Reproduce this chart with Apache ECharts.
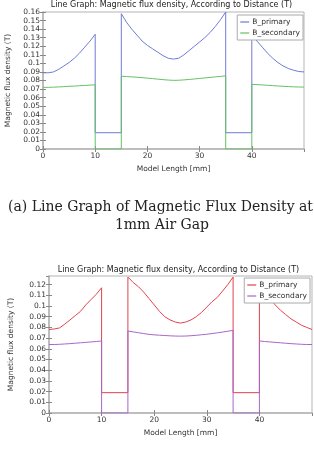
<!DOCTYPE html>
<html lang="en">
<head>
<meta charset="UTF-8">
<title>Magnetic flux density</title>
<script src="https://cdn.jsdelivr.net/npm/echarts@6/dist/echarts.min.js"></script>
<style>
    body { margin: 0; background: #fff; }
    #top { position: absolute; left: 0; top: 0; width: 314px; height: 240px; }
    #bottom { position: absolute; left: 0; top: 240px; width: 314px; height: 223px; }
</style>
</head>
<body>
<div id="top"></div>
<div id="bottom"></div>
<script>
    // sample positions along the model [mm]; repeated x = vertical jump at the gap
    const dist = [0, 1, 2, 3, 4, 5, 6, 7, 8, 9, 10,
        10, 15,
        15, 16, 17, 18, 19, 20, 21, 22, 23, 24, 25, 26, 27, 28, 29, 30, 31, 32, 33, 34, 35,
        35, 40,
        40, 41, 42, 43, 44, 45, 46, 47, 48, 49, 50];

    // (a) 1mm air gap
    const primaryA = [0.089, 0.089, 0.090, 0.093, 0.097, 0.101, 0.106, 0.112, 0.119, 0.126, 0.134,
        0.019, 0.019,
        0.158, 0.148, 0.140, 0.133, 0.126, 0.121, 0.117, 0.113, 0.109, 0.106, 0.105, 0.106, 0.110, 0.115, 0.120, 0.125, 0.130, 0.136, 0.143, 0.151, 0.160,
        0.019, 0.019,
        0.134, 0.126, 0.119, 0.112, 0.106, 0.101, 0.097, 0.094, 0.092, 0.0905, 0.090];
    const secondaryA = [0.072, 0.072, 0.0722, 0.0725, 0.0728, 0.0732, 0.0735, 0.0739, 0.0742, 0.0746, 0.075,
        0, 0,
        0.085, 0.0846, 0.0842, 0.0838, 0.0833, 0.0828, 0.0822, 0.0816, 0.081, 0.0805, 0.0802, 0.0803, 0.0807, 0.0812, 0.0818, 0.0824, 0.083, 0.0836, 0.0842, 0.0848, 0.0855,
        0, 0,
        0.0755, 0.0752, 0.0748, 0.0744, 0.074, 0.0736, 0.0732, 0.0729, 0.0726, 0.0724, 0.0723];

    // second gap
    const primaryB = [0.078, 0.0785, 0.0795, 0.083, 0.087, 0.091, 0.095, 0.101, 0.106, 0.111, 0.117,
        0.019, 0.019,
        0.127, 0.122, 0.118, 0.113, 0.107, 0.101, 0.095, 0.090, 0.087, 0.085, 0.084, 0.085, 0.087, 0.090, 0.094, 0.099, 0.104, 0.108, 0.114, 0.120, 0.127,
        0.019, 0.019,
        0.117, 0.112, 0.107, 0.101, 0.096, 0.092, 0.088, 0.085, 0.082, 0.080, 0.078];
    const secondaryB = [0.064, 0.064, 0.0642, 0.0645, 0.0648, 0.0652, 0.0656, 0.066, 0.0664, 0.0668, 0.0673,
        0, 0,
        0.0766, 0.0758, 0.075, 0.0742, 0.0735, 0.073, 0.0727, 0.0724, 0.0721, 0.0719, 0.0718, 0.0719, 0.0722, 0.0726, 0.0731, 0.0736, 0.0742, 0.0749, 0.0756, 0.0764, 0.0772,
        0, 0,
        0.0673, 0.0668, 0.0664, 0.066, 0.0656, 0.0652, 0.0648, 0.0645, 0.0642, 0.064, 0.064];

    const seriesNames = ['B_primary', 'B_secondary'];
    const chartTitle = 'Line Graph: Magnetic flux density, According to Distance (T)';
    const xName = 'Model Length [mm]';
    const yName = 'Magnetic flux density (T)';
    const captionA = ['(a) Line Graph of Magnetic Flux Density at', '1mm Air Gap'];

    const FONT = 'DejaVu Sans';

    function pairs(vals) {
        return dist.map(function (d, i) { return [d, vals[i]]; });
    }

    function yFmt(v) {
        return v === 0 ? '0' : String(parseFloat(v.toFixed(3)));
    }

    function buildOption(g, yMax, colors, vals, extraGraphic) {
        let tick = { show: true, inside: true, length: 3, lineStyle: { color: '#888' } };
        let option = {
            animation: false,
            textStyle: { fontFamily: FONT },
            grid: {
                left: g.left, top: g.top, width: g.width, height: g.height,
                containLabel: false, outerBoundsMode: 'none',
                show: true, borderColor: '#b5b5b5', borderWidth: 1
            },
            legend: {
                orient: 'vertical',
                right: g.legendRight, top: g.legendTop,
                data: seriesNames,
                icon: 'rect',
                backgroundColor: '#fff',
                borderColor: '#aaa', borderWidth: 1,
                padding: [3, 3, 3, 3],
                itemGap: 3, itemWidth: 9, itemHeight: 1.2,
                textStyle: { fontSize: 7.5, color: '#333', fontFamily: FONT, padding: [0, 0, 0, -2] }
            },
            xAxis: [{
                type: 'value', min: 0, max: 50, interval: 10,
                name: xName, nameLocation: 'middle', nameGap: 13,
                nameTextStyle: { fontSize: 7.5, color: '#333' },
                axisLine: { lineStyle: { color: '#b5b5b5', width: 1.5 } },
                axisTick: tick,
                axisLabel: { fontSize: 7.5, color: '#333', margin: 3, showMaxLabel: false },
                splitLine: { show: false }
            }, {
                type: 'value', min: 0, max: 50, interval: 10, position: 'top',
                axisLine: { show: false }, axisTick: tick,
                axisLabel: { show: false }, splitLine: { show: false }
            }],
            yAxis: [{
                type: 'value', min: 0, max: yMax, interval: 0.01,
                name: yName, nameLocation: 'middle', nameGap: g.nameGap,
                nameTextStyle: { fontSize: 7.5, color: '#333' },
                axisLine: { show: true, lineStyle: { color: '#b5b5b5', width: 1.5 } },
                axisTick: tick,
                axisLabel: { fontSize: 7.5, color: '#333', margin: 3, formatter: yFmt, showMaxLabel: g.showMax },
                splitLine: { show: false }
            }, {
                type: 'value', min: 0, max: yMax, interval: 0.01, position: 'right',
                axisLine: { show: false }, axisTick: tick,
                axisLabel: { show: false }, splitLine: { show: false }
            }],
            graphic: [{
                type: 'text', x: g.left + g.width / 2 - 2, y: g.titleY,
                style: {
                    text: chartTitle, fill: '#222', font: '8px ' + FONT,
                    textAlign: 'center', textVerticalAlign: 'middle'
                }
            }].concat(extraGraphic),
            series: seriesNames.map(function (name, i) {
                return {
                    name: name, type: 'line', symbol: 'none',
                    xAxisIndex: 0, yAxisIndex: 0,
                    color: colors[i],
                    lineStyle: { width: 1, color: colors[i] },
                    data: pairs(vals[i])
                };
            })
        };
        return option;
    }

    let chartA = echarts.init(document.getElementById('top'));
    chartA.setOption(buildOption(
        { left: 43, top: 12, width: 261, height: 137, nameGap: 30, titleY: 5, legendRight: 11, legendTop: 15, showMax: true },
        0.16, ['#6f7bd4', '#66c066'], [primaryA, secondaryA],
        [{
            type: 'text', x: 8, y: 207,
            style: { text: captionA[0], fill: '#222', font: '14px DejaVu Serif', textAlign: 'left', textVerticalAlign: 'middle' }
        }, {
            type: 'text', x: 162, y: 225,
            style: { text: captionA[1], fill: '#222', font: '14px DejaVu Serif', textAlign: 'center', textVerticalAlign: 'middle' }
        }]
    ));

    let chartB = echarts.init(document.getElementById('bottom'));
    chartB.setOption(buildOption(
        { left: 49, top: 36, width: 263, height: 137, nameGap: 34, titleY: 30, legendRight: 4, legendTop: 38, showMax: false },
        0.128, ['#e2424c', '#a866c8'], [primaryB, secondaryB],
        []
    ));
</script>
</body>
</html>
